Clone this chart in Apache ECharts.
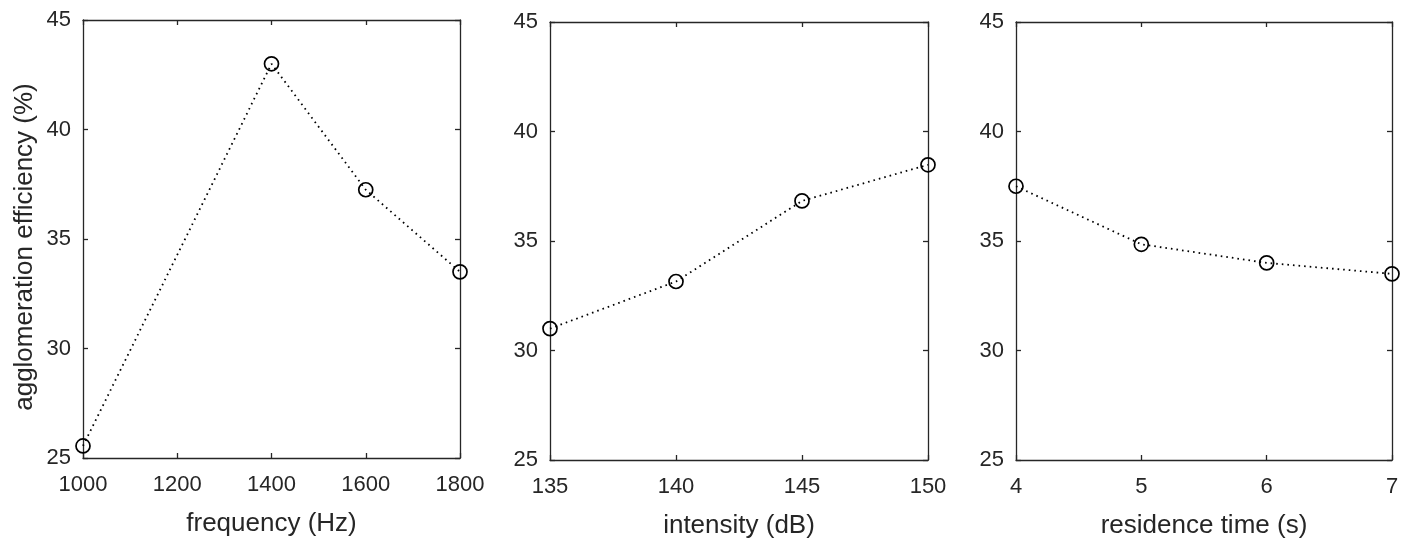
<!DOCTYPE html>
<html><head><meta charset="utf-8">
<script src="https://cdn.jsdelivr.net/npm/echarts@6/dist/echarts.min.js"></script>
<style>html,body{margin:0;padding:0;background:#fff}#c{width:1410px;height:538px}</style>
</head><body><div id="c"></div>
<script>
const freqX = [1000, 1400, 1600, 1800];
const freqY = [25.55, 43.0, 37.25, 33.5];
const intX = [135, 140, 145, 150];
const intY = [31.0, 33.15, 36.83, 38.48];
const resX = [4, 5, 6, 7];
const resY = [37.5, 34.85, 34.0, 33.5];
const xNames = ['frequency (Hz)', 'intensity (dB)', 'residence time (s)'];
const yName = 'agglomeration efficiency (%)';
const xRanges = [[1000, 1800, 200], [135, 150, 5], [4, 7, 1]];
const yRange = [25, 45, 5];

const font = 'Liberation Sans, Arial, Helvetica, sans-serif';
const axCol = '#262626';
const grids = [
  {left: 83, top: 20, width: 377, height: 438, outerBoundsMode: 'none', containLabel: false},
  {left: 550, top: 22, width: 378, height: 438, outerBoundsMode: 'none', containLabel: false},
  {left: 1016, top: 22, width: 376, height: 438, outerBoundsMode: 'none', containLabel: false}
];
const xs = [freqX, intX, resX], ys = [freqY, intY, resY];
const xAxis = [], yAxis = [], series = [];
const plain = v => String(v);
grids.forEach((g, i) => {
  const [mn, mx, iv] = xRanges[i];
  xAxis.push({type: 'value', gridIndex: i, min: mn, max: mx, interval: iv, position: 'bottom',
    name: xNames[i], nameLocation: 'middle', nameGap: 53,
    nameTextStyle: {fontFamily: font, fontSize: 26, color: axCol},
    axisLine: {lineStyle: {color: axCol, width: 1.3}},
    axisTick: {inside: true, length: 5, lineStyle: {color: axCol, width: 1.3}},
    axisLabel: {fontFamily: font, fontSize: 22, color: axCol, margin: 16, formatter: plain},
    splitLine: {show: false}});
  xAxis.push({type: 'value', gridIndex: i, min: mn, max: mx, interval: iv, position: 'top',
    axisLine: {lineStyle: {color: axCol, width: 1.3}},
    axisTick: {inside: true, length: 5, lineStyle: {color: axCol, width: 1.3}},
    axisLabel: {show: false}, splitLine: {show: false}});
  yAxis.push({type: 'value', gridIndex: i, min: yRange[0], max: yRange[1], interval: yRange[2], position: 'left',
    name: i === 0 ? yName : '', nameLocation: 'middle', nameGap: 45,
    nameTextStyle: {fontFamily: font, fontSize: 26, color: axCol, padding: [0, 16, 0, 0]},
    axisLine: {show: true, lineStyle: {color: axCol, width: 1.3}},
    axisTick: {show: true, inside: true, length: 5, lineStyle: {color: axCol, width: 1.3}},
    axisLabel: {fontFamily: font, fontSize: 22, color: axCol, margin: 12, formatter: plain, padding: [6, 0, 0, 0]},
    splitLine: {show: false}});
  yAxis.push({type: 'value', gridIndex: i, min: yRange[0], max: yRange[1], interval: yRange[2], position: 'right',
    axisLine: {show: true, lineStyle: {color: axCol, width: 1.3}},
    axisTick: {show: true, inside: true, length: 5, lineStyle: {color: axCol, width: 1.3}},
    axisLabel: {show: false}, splitLine: {show: false}});
  series.push({type: 'line', xAxisIndex: 2 * i, yAxisIndex: 2 * i,
    data: xs[i].map((x, k) => [x, ys[i][k]]),
    symbol: 'circle', symbolSize: 14, showAllSymbol: true, clip: false,
    lineStyle: {color: '#000', width: 1.8, type: [1.6, 4]},
    itemStyle: {color: 'rgba(0,0,0,0)', borderColor: '#000', borderWidth: 1.7},
    emphasis: {disabled: true}, animation: false, z: 3});
});
const chart = echarts.init(document.getElementById('c'));
chart.setOption({animation: false, grid: grids, xAxis, yAxis, series});
</script></body></html>
